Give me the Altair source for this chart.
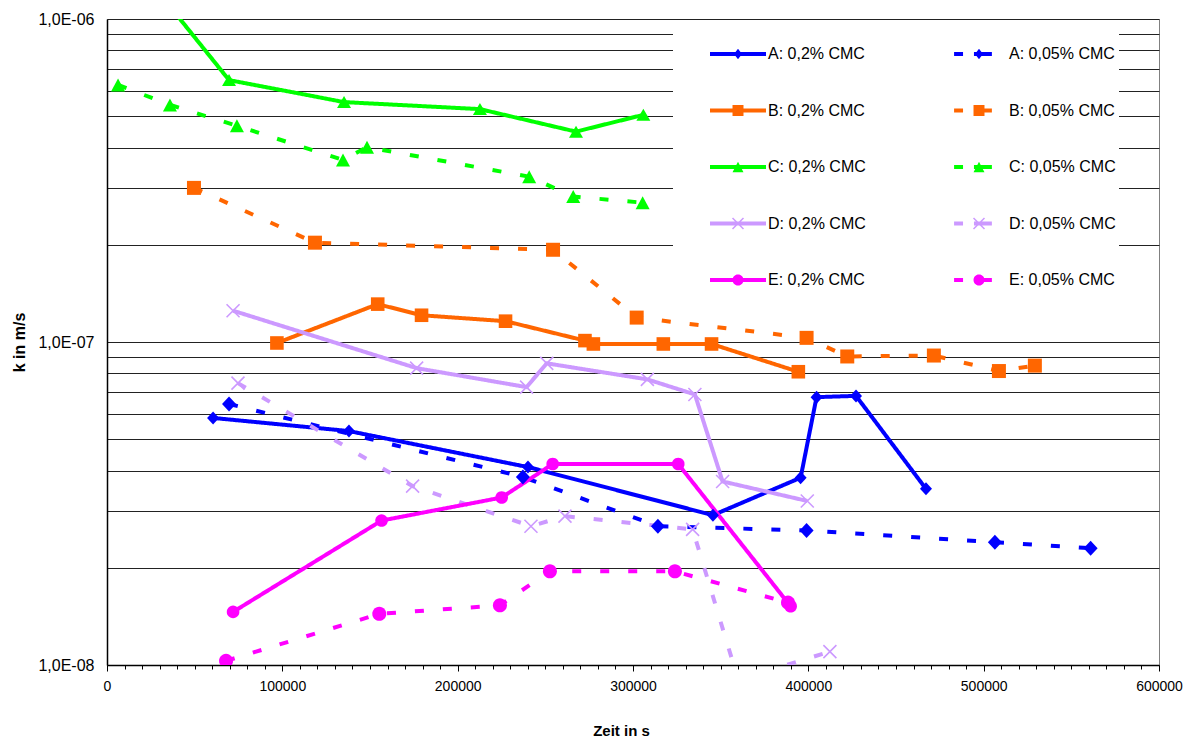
import math
import altair as alt
import pandas as pd

# ---------------- data ----------------
series_names = ["A: 0,2% CMC", "A: 0,05% CMC", "B: 0,2% CMC", "B: 0,05% CMC",
                "C: 0,2% CMC", "C: 0,05% CMC", "D: 0,2% CMC", "D: 0,05% CMC",
                "E: 0,2% CMC", "E: 0,05% CMC"]

a02_t = [60500, 138000, 240100, 345600, 395600, 404700, 427200, 467100]
a02_k = [5.82e-8, 5.30e-8, 4.10e-8, 2.91e-8, 3.80e-8, 6.75e-8, 6.81e-8, 3.51e-8]
a005_t = [69600, 237200, 314200, 399000, 506400, 561000]
a005_k = [6.43e-8, 3.82e-8, 2.69e-8, 2.61e-8, 2.40e-8, 2.30e-8]
b02_t = [96900, 154400, 179400, 227300, 272600, 277400, 317300, 344800, 394300]
b02_k = [9.93e-8, 1.31e-7, 1.21e-7, 1.16e-7, 1.01e-7, 9.86e-8, 9.86e-8, 9.86e-8, 8.09e-8]
b005_t = [49600, 118600, 254400, 302100, 399000, 422200, 471600, 508700, 529200]
b005_k = [3.00e-7, 2.03e-7, 1.93e-7, 1.19e-7, 1.03e-7, 9.02e-8, 9.08e-8, 8.13e-8, 8.45e-8]
c02_t = [20000, 69600, 135200, 212700, 267500, 305900]
c02_k = [1.4e-6, 6.47e-7, 5.53e-7, 5.26e-7, 4.48e-7, 5.05e-7]
c005_t = [6300, 35900, 74100, 134600, 148300, 240800, 265900, 305500]
c005_k = [6.25e-7, 5.42e-7, 4.67e-7, 3.66e-7, 4.01e-7, 3.25e-7, 2.82e-7, 2.70e-7]
d02_t = [71900, 176600, 239300, 250800, 308200, 335300, 351100, 399400]
d02_k = [1.25e-7, 8.30e-8, 7.25e-8, 8.59e-8, 7.66e-8, 6.88e-8, 3.70e-8, 3.22e-8]
d005_t = [74700, 174300, 241800, 261200, 334000, 360000, 412300]
d005_k = [7.46e-8, 3.58e-8, 2.69e-8, 2.89e-8, 2.63e-8, 9.0e-9, 1.10e-8]
e02_t = [71900, 156600, 225100, 254200, 325800, 389900]
e02_k = [1.46e-8, 2.80e-8, 3.30e-8, 4.19e-8, 4.19e-8, 1.52e-8]
e005_t = [67900, 155300, 224100, 252600, 323900, 388400]
e005_k = [1.03e-8, 1.44e-8, 1.53e-8, 1.95e-8, 1.95e-8, 1.56e-8]

x_ticks = list(range(0, 600001, 10000))
y_ticks = [m * 10.0 ** e for e in (-8, -7) for m in range(1, 10)] + [1e-6]

all_t = [a02_t, a005_t, b02_t, b005_t, c02_t, c005_t, d02_t, d005_t, e02_t, e005_t]
all_k = [a02_k, a005_k, b02_k, b005_k, c02_k, c005_k, d02_k, d005_k, e02_k, e005_k]

rows = []
for name, tl, kl in zip(series_names, all_t, all_k):
    for i, (t, k) in enumerate(zip(tl, kl)):
        rows.append({"series": name, "t": t, "k": k, "i": i})
df = pd.DataFrame(rows)

# ---------------- styles ----------------
colors = ["#0000FF", "#0000FF", "#FF6600", "#FF6600", "#00FF00", "#00FF00",
          "#CC99FF", "#CC99FF", "#FF00FF", "#FF00FF"]
dashes = [[1, 0], [9, 19]] * 5
FONT = "Liberation Sans, Arial, Helvetica, sans-serif"


def poly(pts):
    n = len(pts)
    area = sum(pts[i][0] * pts[(i + 1) % n][1] - pts[(i + 1) % n][0] * pts[i][1] for i in range(n))
    if area < 0:
        pts = pts[::-1]
    return "M" + "L".join(f"{x:.3f},{y:.3f}" for x, y in pts) + "Z"


def rect(x0, x1, h):
    return poly([(x0, -h), (x1, -h), (x1, h), (x0, h)])


def diamond(cx, hw, hh):
    return poly([(cx, -hh), (cx + hw, 0), (cx, hh), (cx - hw, 0)])


def square(cx, h):
    return poly([(cx - h, -h), (cx + h, -h), (cx + h, h), (cx - h, h)])


def triangle(cx, hw, hh):
    return poly([(cx, -hh), (cx + hw, hh), (cx - hw, hh)])


def circle(cx, r, n=28):
    return poly([(cx + r * math.cos(2 * math.pi * j / n), r * math.sin(2 * math.pi * j / n)) for j in range(n)])


def cross(cx, h, t):
    o = t / 2 / math.sqrt(2)
    p1 = poly([(cx - h + o, -h - o), (cx + h + o, h - o), (cx + h - o, h + o), (cx - h - o, -h + o)])
    p2 = poly([(cx - h + o, h + o), (cx + h + o, -h + o), (cx + h - o, -h - o), (cx - h - o, h - o)])
    return p1 + p2


# chart markers: size 196 -> 1 unit = 7 px
U = 1 / 7
marker_paths = [
    diamond(0, 6 * U, 6.5 * U), diamond(0, 7 * U, 7.5 * U),
    square(0, 6.8 * U), square(0, 7 * U),
    triangle(0, 7 * U, 6 * U), triangle(0, 7 * U, 6.5 * U),
    cross(0, 6.5 * U, 1.6 * U), cross(0, 6.5 * U, 1.6 * U),
    circle(0, 6.3 * U), circle(0, 7 * U),
]

# legend symbols: size 3136 -> 1 unit = 28 px
L = 1 / 28
lw = 2 * L
solid_line = rect(-1, 1, lw)
dash_line = rect(-0.89, -0.57, lw) + rect(-0.18, 0.46, lw)
leg_markers = [diamond(0, 4 * L, 5.3 * L), square(0, 5.5 * L), triangle(0, 5.5 * L, 5.3 * L),
               cross(0, 5.5 * L, 1.5 * L), circle(0, 5.5 * L)]
legend_paths = []
for m in leg_markers:
    legend_paths.append(solid_line + m)
    legend_paths.append(dash_line + m)

# ---------------- encodings ----------------
x_enc = alt.X(
    "t:Q",
    scale=alt.Scale(domain=[0, 600000], nice=False, zero=False),
    axis=alt.Axis(
        title="Zeit in s", values=x_ticks, grid=False,
        labelExpr="datum.value % 100000 === 0 ? '' + datum.value : ''",
        labelOverlap=False, labelFlush=False, labelFont=FONT, labelFontSize=14,
        labelColor="#000000", labelPadding=8,
        tickSize={"condition": {"test": "datum.value % 100000 === 0", "value": 6}, "value": 4},
        tickColor="#000000", tickWidth=1,
        domainColor="#000000", domainWidth=1.5,
        titleFont=FONT, titleFontSize=15, titleFontWeight="bold", titleColor="#000000",
        titleX=514, titleY=70, titleBaseline="alphabetic",
    ),
)
y_enc = alt.Y(
    "k:Q",
    scale=alt.Scale(type="log", domain=[1e-8, 1e-6], nice=False),
    axis=alt.Axis(
        title="k in m/s", values=y_ticks, grid=True, gridColor="#222222", gridWidth=1,
        ticks=False,
        labelExpr="(abs(log(datum.value)/LN10 - round(log(datum.value)/LN10)) < 0.001) ? ('1,0E-0' + (-round(log(datum.value)/LN10))) : ''",
        labelOverlap=False, labelFlush=False, labelFont=FONT, labelFontSize=16,
        labelColor="#000000", labelPadding=13,
        domainColor="#000000", domainWidth=1.5,
        titleFont=FONT, titleFontSize=16, titleFontWeight="bold", titleColor="#000000",
        titleX=-88, titleY=323, titleBaseline="middle", titleAngle=270,
    ),
)

color_scale = alt.Scale(domain=series_names, range=colors)

lines = alt.Chart(df).mark_line(strokeWidth=4, clip=True).encode(
    x=x_enc, y=y_enc,
    color=alt.Color("series:N", scale=color_scale, legend=None),
    strokeDash=alt.StrokeDash("series:N", scale=alt.Scale(domain=series_names, range=dashes), legend=None),
    order="i:Q",
)

points = alt.Chart(df).mark_point(filled=True, opacity=1, size=196, strokeWidth=0, clip=True).encode(
    x=x_enc, y=y_enc,
    color=alt.Color("series:N", scale=color_scale, legend=None),
    shape=alt.Shape("series:N", scale=alt.Scale(domain=series_names, range=marker_paths), legend=None),
)

leg = dict(
    title=" ", titleOrient="left", titleFontSize=1, titlePadding=34,
    orient="none", legendX=566, legendY=4, padding=3,
    direction="horizontal", columns=2, columnPadding=85, rowPadding=20.5,
    symbolSize=3136, symbolStrokeWidth=0, symbolOpacity=1,
    labelFont=FONT, labelFontSize=16, labelColor="#000000", labelOffset=2, labelLimit=400,
    fillColor="#FFFFFF",
)

legend_layer = alt.Chart(df).transform_filter("false").mark_point(filled=True, opacity=1).encode(
    x=x_enc, y=y_enc,
    color=alt.Color("series:N", scale=alt.Scale(domain=series_names, range=colors), legend=alt.Legend(**leg)),
    shape=alt.Shape("series:N", scale=alt.Scale(domain=series_names, range=legend_paths), legend=alt.Legend(**leg)),
)

chart = alt.layer(lines, points, legend_layer).resolve_scale(
    color="independent", shape="independent"
).properties(
    width=1052, height=646,
    padding={"left": 99, "top": 11, "right": 26, "bottom": 72},
    autosize=alt.AutoSizeParams(type="none"),
    background="#FFFFFF",
).configure_view(stroke="#808080", strokeWidth=1)

chart.save("out.html", embed_options={"renderer": "svg", "actions": False})
